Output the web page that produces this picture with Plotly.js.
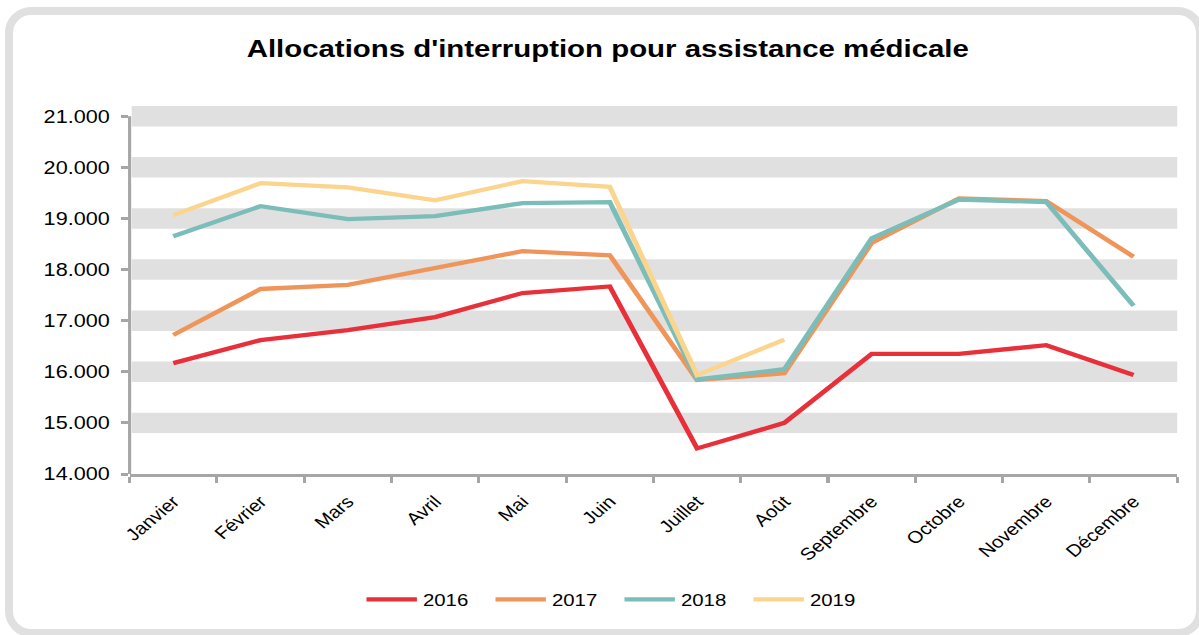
<!DOCTYPE html>
<html>
<head>
<meta charset="utf-8">
<script src="https://cdn.plot.ly/plotly-3.0.1.min.js"></script>
<style>
html,body{margin:0;padding:0;background:#fff;overflow:hidden;}
#frame{position:absolute;left:5px;top:7px;width:1183px;height:614px;border:8px solid #e0e0e0;border-radius:26px;}
#chart{position:absolute;left:0;top:0;width:999px;height:635px;transform:scaleX(1.2);transform-origin:0 0;}
</style>
</head>
<body>
<div id="frame"></div>
<div id="chart"></div>
<script>
const months = ['Janvier','Février','Mars','Avril','Mai','Juin','Juillet','Août','Septembre','Octobre','Novembre','Décembre'];
const y2016 = [16170,16620,16815,17070,17540,17670,14500,15000,16350,16350,16520,15935];
const y2017 = [16720,17620,17700,18030,18360,18280,15840,15970,18520,19390,19340,18250];
const y2018 = [18650,19240,18985,19045,19300,19320,15850,16050,18610,19370,19320,17290];
const y2019 = [19065,19690,19610,19355,19730,19620,15935,16630,null,null,null,null];
const seriesNames = ['2016','2017','2018','2019'];
const colors = ['#e8303a','#f0955a','#7bbdb8','#fbd58d'];
const gridValues = [15000,16000,17000,18000,19000,20000,21000];
const yTicks = [14000,15000,16000,17000,18000,19000,20000,21000];

const data = [y2016,y2017,y2018,y2019].map((ys,i)=>({
  x: months, y: ys, type:'scatter', mode:'lines', name: seriesNames[i],
  line:{color:colors[i], width:4.3}, connectgaps:false
}));

const bandHalf = 200;
const shapes = gridValues.map(v=>({
  type:'rect', xref:'paper', yref:'y', x0:0.002, x1:1, y0:v-bandHalf, y1:v+bandHalf,
  fillcolor:'#e0e0e0', line:{width:0}, layer:'below'
}));
shapes.push({type:'line', xref:'paper', yref:'y', x0:0, x1:0, y0:14000, y1:21000,
  line:{color:'#a6a6a6', width:2.6}, layer:'above'});

const layout = {
  width:999, height:635,
  paper_bgcolor:'rgba(0,0,0,0)', plot_bgcolor:'rgba(0,0,0,0)',
  separators:',.',
  margin:{l:107.5, r:18.2, t:106, b:161},
  title:{text:"Allocations d'interruption pour assistance médicale", x:0.507, xanchor:'center', y:0.924, yanchor:'middle',
    font:{family:'Liberation Sans, Arial, sans-serif', size:24.5, color:'#000', weight:'bold'}},
  font:{family:'Liberation Sans, Arial, sans-serif', color:'#000'},
  xaxis:{type:'category', showgrid:false, zeroline:false, showline:true, linecolor:'#a6a6a6', linewidth:3,
    ticks:'outside', tickson:'boundaries', ticklen:6, tickwidth:2.6, tickcolor:'#a6a6a6',
    tickangle:-45, tickfont:{size:17, color:'#000'}, ticklabelstandoff:8, range:[-0.5,11.5], fixedrange:true},
  yaxis:{range:[14000,21200], tickvals:yTicks, tickformat:',', showgrid:false, zeroline:false, showline:false,
    ticks:'outside', ticklen:6, tickwidth:3, tickcolor:'#a6a6a6', tickfont:{size:18, color:'#000'}, ticklabelstandoff:6},
  shapes: shapes,
  showlegend:true,
  legend:{orientation:'h', x:0.2204, xanchor:'left', y:-0.342, yanchor:'middle', font:{size:17, color:'#000'},
    itemwidth:42, entrywidth:50.5, entrywidthmode:'pixels', tracegroupgap:0},
};

Plotly.newPlot('chart', data, layout, {staticPlot:true, displayModeBar:false});
</script>
</body>
</html>
